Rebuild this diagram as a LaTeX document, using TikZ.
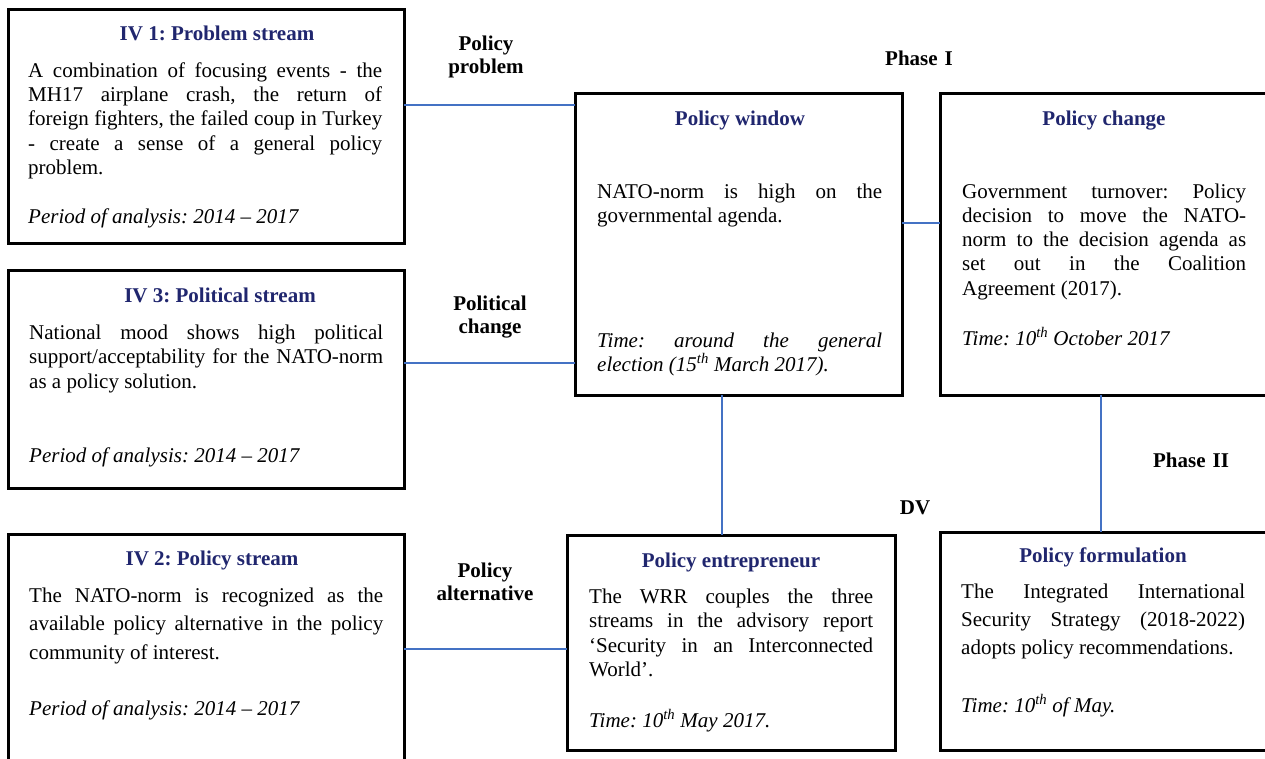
\documentclass[tikz,border=0pt]{standalone}
\usepackage{fontspec}
\setmainfont{Liberation Serif}
\definecolor{navy}{RGB}{32,38,110}
\definecolor{linkblue}{RGB}{68,114,196}
\hyphenpenalty=10000
\exhyphenpenalty=10000
\tolerance=10000
\frenchspacing
\begin{document}
\begin{tikzpicture}[x=1pt,y=-1pt,
  box/.style={draw=black,line width=3pt,rectangle,inner sep=0pt,outer sep=0pt,anchor=north west},
  ttl/.style={font=\fontsize{21}{24.3}\selectfont\bfseries\frenchspacing,text=navy,anchor=base,inner sep=0pt},
  body/.style={font=\fontsize{21}{#1}\selectfont\frenchspacing,align=justify,anchor=base west,inner sep=0pt,text width=354pt},
  lbl/.style={font=\fontsize{21}{23.5}\selectfont\bfseries,align=center,anchor=base,inner sep=0pt,text width=130pt},
  conn/.style={draw=linkblue,line width=2.8pt}
]
\useasboundingbox (0,0) rectangle (1265,758);
\clip (0,0) rectangle (1265,758);

% boxes
\node[box,minimum width=396pt,minimum height=234pt] (b1) at (8,9) {};
\node[box,minimum width=396pt,minimum height=218pt] (b2) at (8,270) {};
\node[box,minimum width=396pt,minimum height=240pt] (b3) at (8,534) {};
\node[box,minimum width=327pt,minimum height=302pt] (win) at (575,93) {};
\node[box,minimum width=340pt,minimum height=302pt] (chg) at (940,93) {};
\node[box,minimum width=340pt,minimum height=218pt] (form) at (940,532) {};
\node[box,minimum width=328pt,minimum height=215pt] (ent) at (567,535) {};

% connectors
\draw[conn] (b1.east |- 0,105) -- (win.west |- 0,105);
\draw[conn] (b2.east |- 0,363) -- (win.west |- 0,363);
\draw[conn] (win.east |- 0,223) -- (chg.west |- 0,223);
\draw[conn] (win.south -| 722,0) -- (ent.north -| 722,0);
\draw[conn] (chg.south -| 1101,0) -- (form.north -| 1101,0);
\draw[conn] (b3.east |- 0,649) -- (ent.west |- 0,649);

% box 1
\node[ttl] (t1) at (217,40.7) {IV 1: Problem stream};
\node[body=24.3] (x1) at (28,77.3) {A combination of focusing events - the\linebreak MH17 airplane crash, the return of\linebreak foreign fighters, the failed coup in Turkey\linebreak - create a sense of a general policy\linebreak problem.};
\node[body=24.3] (i1) at (28,223) {\itshape Period of analysis: 2014 -- 2017};

% box 2
\node[ttl] (t2) at (220,302) {IV 3: Political stream};
\node[body=24.8] (x2) at (29,339) {National mood shows high political\linebreak support/acceptability for the NATO-norm\linebreak as a policy solution.};
\node[body=24.3] (i2) at (29,462) {\itshape Period of analysis: 2014 -- 2017};

% box 3
\node[ttl] (t3) at (212,565) {IV 2: Policy stream};
\node[body=28.5] (x3) at (29,602) {The NATO-norm is recognized as the\linebreak available policy alternative in the policy\linebreak community of interest.};
\node[body=24.3] (i3) at (29,715) {\itshape Period of analysis: 2014 -- 2017};

% policy window
\node[ttl] (tw) at (740,125) {Policy window};
\node[body=24.5,text width=285pt] (xw) at (597,198) {NATO-norm is high on the\linebreak governmental agenda.};
\node[body=24.5,text width=285pt] (iw) at (597,347) {\itshape Time: around the general\linebreak election (15\textsuperscript{th} March 2017).};

% policy change
\node[ttl] (tc) at (1104,125) {Policy change};
\node[body=24.3,text width=284pt] (xc) at (962,198) {Government turnover: Policy\linebreak decision to move the NATO-\linebreak norm to the decision agenda as\linebreak set out in the Coalition\linebreak Agreement (2017).};
\node[body=24.3,text width=284pt] (ic) at (962,345) {\itshape Time: 10\textsuperscript{th} October 2017};

% policy formulation
\node[ttl] (tf) at (1103,562) {Policy formulation};
\node[body=28,text width=284pt] (xf) at (961,598) {The Integrated International\linebreak Security Strategy (2018-2022)\linebreak adopts policy recommendations.};
\node[body=24.3,text width=284pt] (if) at (961,712) {\itshape Time: 10\textsuperscript{th} of May.};

% policy entrepreneur
\node[ttl] (te) at (731,567) {Policy entrepreneur};
\node[body=24.5,text width=284pt] (xe) at (589,603) {The WRR couples the three\linebreak streams in the advisory report\linebreak `Security in an Interconnected\linebreak World'.};
\node[body=24.3,text width=284pt] (ie) at (589,727) {\itshape Time: 10\textsuperscript{th} May 2017.};

% labels
\node[lbl] (l1) at (486,50) {Policy\\problem};
\node[lbl] (l2) at (490,310) {Political\\change};
\node[lbl] (l3) at (485,577) {Policy\\alternative};
\node[lbl] (ph1) at (919,65) {Phase I};
\node[lbl] (ph2) at (1191,467) {Phase II};
\node[lbl] (dv) at (915,514) {DV};
\end{tikzpicture}
\end{document}
